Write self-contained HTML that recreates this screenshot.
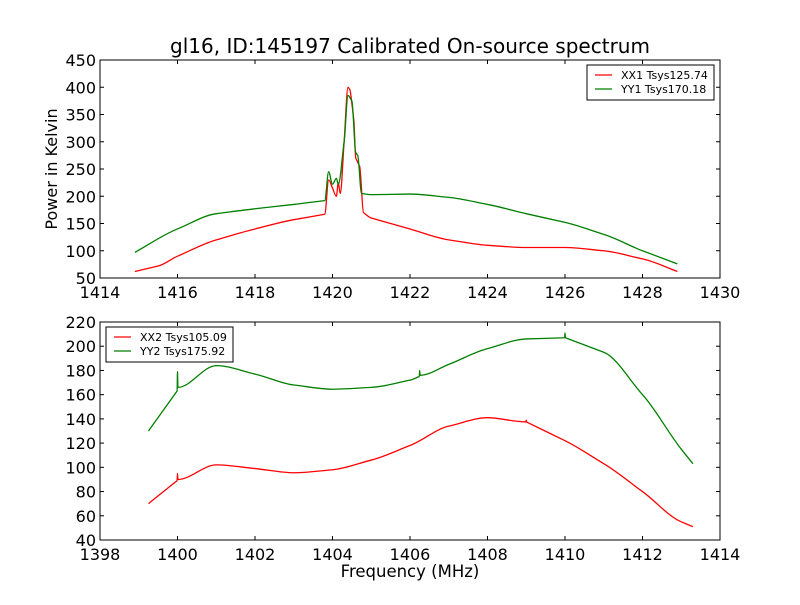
<!DOCTYPE html>
<html><head><meta charset="utf-8"><style>
body{margin:0;background:#fff}
svg{font-family:"DejaVu Sans","Liberation Sans",sans-serif}
</style></head><body>
<svg width="800" height="600" viewBox="0 0 800 600">
<rect width="800" height="600" fill="#fff"/>
<text x="410" y="53" font-size="20" text-anchor="middle">gl16, ID:145197 Calibrated On-source spectrum</text>
<g id="top"></g>
<g id="bot"></g>
<text x="410" y="577" font-size="16.5" text-anchor="middle">Frequency (MHz)</text>
<text transform="translate(57,169) rotate(-90)" font-size="16" text-anchor="middle">Power in Kelvin</text>
</svg>
<script>
const topFreqXX1=[1414.9,1415.5,1416,1417,1418,1419,1419.8,1419.9,1420.0,1420.1,1420.15,1420.2,1420.3,1420.4,1420.45,1420.5,1420.55,1420.6,1420.7,1420.8,1421,1422,1423,1424,1425,1426,1427,1428,1428.9];
const topValXX1=[62,72,90,120,140,157,167,230,215,200,225,205,300,400,395,370,340,270,255,170,160,140,120,110,106,106,100,85,62];
const topFreqYY1=[1414.9,1416,1417,1418,1419,1419.8,1419.9,1420.0,1420.1,1420.15,1420.3,1420.4,1420.5,1420.6,1420.65,1420.75,1421,1422,1423,1424,1425,1426,1427,1428,1428.9];
const topValYY1=[97,140,168,177,185,192,245,222,233,222,300,385,375,280,275,205,203,204,198,185,168,152,130,100,76];
const botFreqXX2=[1399.25,1399.99,1400,1400.01,1401,1402,1403,1404,1405,1406,1407,1408,1408.99,1409,1409.01,1410,1411,1412,1413,1413.3];
const botValXX2=[70,89,95,90,102,99,95.5,98,106,118,134,141,137.5,139,137.4,122,103,80,55,51];
const botFreqYY2=[1399.25,1399.99,1400,1400.01,1401,1402,1403,1404,1405,1406,1406.24,1406.25,1406.26,1407,1408,1409,1409.99,1410,1410.01,1411,1412,1413,1413.3];
const botValYY2=[130,163,179,166,184,177,168,164.5,166,172,175,180,176,185,198,206,207,211,207,195,160,115,103];
const topXTicks=[1414,1416,1418,1420,1422,1424,1426,1428,1430];
const topYTicks=[50,100,150,200,250,300,350,400,450];
const botXTicks=[1398,1400,1402,1404,1406,1408,1410,1412,1414];
const botYTicks=[40,60,80,100,120,140,160,180,200,220];
const NS="http://www.w3.org/2000/svg";
function mk(p,t,a){const e=document.createElementNS(NS,t);for(const k in a)e.setAttribute(k,a[k]);p.appendChild(e);return e;}
function panel(g,x0,x1,y0,y1,box,xt,yt,series,leg){
  const sx=v=>box.l+(v-x0)/(x1-x0)*(box.r-box.l);
  const sy=v=>box.b-(v-y0)/(y1-y0)*(box.b-box.t);
  series.forEach(s=>{
    const P=s.f.map((f,i)=>[sx(f),sy(s.v[i])]);
    const n=P.length, sec=[], m=[];
    for(let i=0;i<n-1;i++)sec.push((P[i+1][1]-P[i][1])/(P[i+1][0]-P[i][0]));
    for(let i=0;i<n;i++){
      if(i==0)m.push(sec[0]);else if(i==n-1)m.push(sec[n-2]);
      else{const a=sec[i-1],b=sec[i];m.push(a*b<=0?0:(Math.abs(a)<Math.abs(b)?a:b));}
    }
    let d="M"+P[0][0]+","+P[0][1];
    for(let i=0;i<n-1;i++){
      const dx=(P[i+1][0]-P[i][0])/3;
      d+=`C${P[i][0]+dx},${P[i][1]+m[i]*dx} ${P[i+1][0]-dx},${P[i+1][1]-m[i+1]*dx} ${P[i+1][0]},${P[i+1][1]}`;
    }
    const e=mk(g,"path",{d:d,fill:"none",stroke:s.c,"stroke-width":1.3});
    
    
  });
  const fr=mk(g,"rect",{x:box.l,y:box.t,width:box.r-box.l,height:box.b-box.t,fill:"none",stroke:"#000","stroke-width":1});
  
  
  xt.forEach(v=>{const x=sx(v);
    mk(g,"line",{x1:x,x2:x,y1:box.b,y2:box.b-4,stroke:"#000"});
    mk(g,"line",{x1:x,x2:x,y1:box.t,y2:box.t+4,stroke:"#000"});
    const t=mk(g,"text",{x:x,y:box.b+20,"font-size":16,"text-anchor":"middle"});t.textContent=v;
    
    
  });
  yt.forEach(v=>{const y=sy(v);
    mk(g,"line",{x1:box.l,x2:box.l+4,y1:y,y2:y,stroke:"#000"});
    mk(g,"line",{x1:box.r,x2:box.r-4,y1:y,y2:y,stroke:"#000"});
    const t=mk(g,"text",{x:box.l-4,y:y+6,"font-size":16,"text-anchor":"end"});t.textContent=v;
    
    
  });
  const lg=mk(g,"g",{});
  
  
  mk(lg,"rect",{x:leg.x,y:leg.y,width:127,height:35,fill:"#fff",stroke:"#000"});
  series.forEach((s,i)=>{const y=leg.y+10+i*14;
    mk(lg,"line",{x1:leg.x+8,x2:leg.x+25,y1:y,y2:y,stroke:s.c,"stroke-width":1.3});
    const t=mk(lg,"text",{x:leg.x+34,y:y+4,"font-size":11});t.textContent=s.label;
    
    
  });
}
panel(document.getElementById("top"),1414,1430,50,450,{l:100,r:720,t:60,b:278},topXTicks,topYTicks,
 [{f:topFreqXX1,v:topValXX1,c:"#ff0000",n:"xx1-line",label:"XX1 Tsys125.74"},{f:topFreqYY1,v:topValYY1,c:"#008000",n:"yy1-line",label:"YY1 Tsys170.18"}],{x:587,y:65});
panel(document.getElementById("bot"),1398,1414,40,220,{l:100,r:720,t:322,b:540},botXTicks,botYTicks,
 [{f:botFreqXX2,v:botValXX2,c:"#ff0000",n:"xx2-line",label:"XX2 Tsys105.09"},{f:botFreqYY2,v:botValYY2,c:"#008000",n:"yy2-line",label:"YY2 Tsys175.92"}],{x:106,y:327});
</script>
</body></html>
